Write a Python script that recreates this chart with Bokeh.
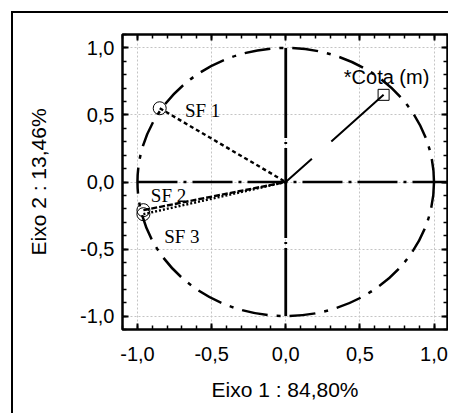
from bokeh.plotting import figure
from bokeh.models import FixedTicker, LinearAxis, Range1d
from bokeh.embed import file_html
from bokeh.resources import INLINE
from bokeh.core.properties import value

# ---- data ----
var_names = ["SF 1", "SF 2", "SF 3"]
var_x = [-0.85, -0.96, -0.96]
var_y = [0.55, -0.21, -0.24]
var_label_x = [-0.68, -0.91, -0.82]
var_label_y = [0.53, -0.10, -0.41]
var_dash = ["4 3", "6 2", "2 2"]

supp_names = ["*Cota (m)"]
supp_x = [0.66]
supp_y = [0.65]
supp_label_x = [0.68]
supp_label_y = [0.78]

circle_radius = [1.0]
tick_values = [-1.0, -0.5, 0.0, 0.5, 1.0]
tick_labels = ["-1,0", "-0,5", "0,0", "0,5", "1,0"]
minor_values = [-1.1, -1.0, -0.9, -0.8, -0.7, -0.6, -0.5, -0.4, -0.3, -0.2, -0.1,
                0.0, 0.1, 0.2, 0.3, 0.4, 0.5, 0.6, 0.7, 0.8, 0.9, 1.0, 1.1]
x_title = "Eixo 1 : 84,80%"
y_title = "Eixo 2 : 13,46%"

SANS = "Liberation Sans"
SERIF = "Liberation Serif"

p = figure(frame_width=325, frame_height=295,
           x_range=Range1d(-1.101, 1.091), y_range=Range1d(-1.1, 1.1),
           min_border_left=109, min_border_right=1, min_border_top=21, min_border_bottom=84,
           output_backend="svg", toolbar_location=None)
p.styles = {"margin-left": "11px", "margin-top": "11px",
            "border-left": "2px solid black", "border-top": "2px solid black"}
p.outline_line_color = "black"
p.outline_line_width = 2.5
p.background_fill_color = "white"
p.border_fill_color = "white"

overrides = {v: l for v, l in zip(tick_values, tick_labels)}

def style_axis(ax, labels=True):
    ax.ticker = FixedTicker(ticks=tick_values, minor_ticks=minor_values)
    ax.axis_line_color = None
    ax.major_tick_in = 6
    ax.major_tick_out = 0
    ax.minor_tick_in = 4
    ax.minor_tick_out = 0
    ax.major_tick_line_width = 2
    ax.minor_tick_line_width = 1.5
    ax.major_tick_line_color = "black"
    ax.minor_tick_line_color = "black"
    if labels:
        ax.major_label_overrides = overrides
        ax.major_label_text_font = SANS
        ax.major_label_text_font_size = "20px"
        ax.major_label_text_color = "black"
        ax.axis_label_text_font = SANS
        ax.axis_label_text_font_size = "21px"
        ax.axis_label_text_font_style = "normal"
        ax.axis_label_text_color = "black"
    else:
        ax.major_label_text_font_size = "1px"
        ax.major_label_text_color = None
        ax.major_label_standoff = 0

style_axis(p.xaxis[0])
style_axis(p.yaxis[0])
p.xaxis[0].axis_label = x_title
p.yaxis[0].axis_label = y_title
p.xaxis[0].major_label_standoff = 17
p.xaxis[0].axis_label_standoff = 14
p.yaxis[0].major_label_standoff = 8
p.yaxis[0].axis_label_standoff = 27

top_ax = LinearAxis()
right_ax = LinearAxis()
style_axis(top_ax, labels=False)
style_axis(right_ax, labels=False)
p.add_layout(top_ax, "above")
p.add_layout(right_ax, "right")

p.xgrid.ticker = FixedTicker(ticks=tick_values)
p.ygrid.ticker = FixedTicker(ticks=tick_values)
p.grid.grid_line_color = "#c4c4c4"
p.grid.grid_line_dash = "2 2"
p.grid.grid_line_width = 1

# unit circle
p.ellipse(x=[0], y=[0], width=[2 * r for r in circle_radius],
          height=[2 * r for r in circle_radius],
          fill_alpha=0, line_color="black", line_width=2.5, line_dash="26 9 4 9")

# axis cross lines
p.line(x=[-circle_radius[0], 1.1], y=[0, 0], line_color="black", line_width=2.5,
       line_dash="40 6 3 6")
p.line(x=[0, 0], y=[circle_radius[0], -circle_radius[0]], line_color="black",
       line_width=2.8, line_dash="90 4 2 4")

# vectors for active variables
for vx, vy, d in zip(var_x, var_y, var_dash):
    p.line(x=[vx, 0], y=[vy, 0], line_color="black", line_width=2.4, line_dash=d)

# vector for supplementary variable
p.line(x=[supp_x[0], 0], y=[supp_y[0], 0], line_color="black", line_width=2,
       line_dash="70 26")

p.scatter(x=var_x, y=var_y, marker="circle", size=13, fill_alpha=0,
          line_color="black", line_width=1)
p.scatter(x=supp_x, y=supp_y, marker="square", size=11, fill_color="white",
          fill_alpha=0, line_color="black", line_width=1)

p.text(x=var_label_x, y=var_label_y, text=var_names, text_font=value(SERIF),
       text_font_size="19px", text_baseline="middle", text_align="left",
       text_color="black")
p.text(x=supp_label_x, y=supp_label_y, text=supp_names, text_font=value(SANS),
       text_font_size="20px", text_baseline="middle", text_align="center",
       text_color="black")

open("out.html", "w").write(file_html(p, INLINE))
